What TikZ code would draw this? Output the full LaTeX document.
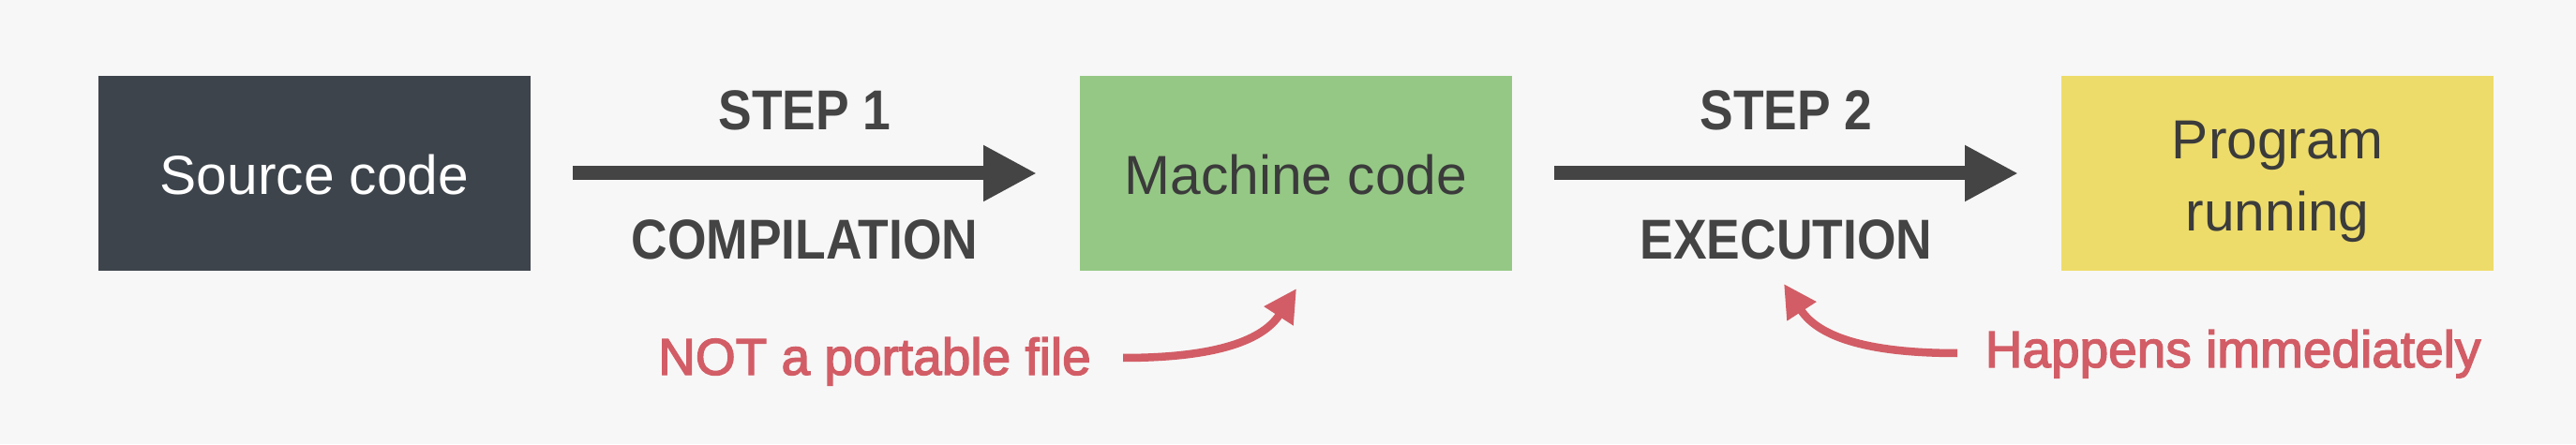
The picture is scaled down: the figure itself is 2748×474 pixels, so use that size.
\documentclass[tikz,border=0pt]{standalone}
\usepackage{fontspec}
\setmainfont{Liberation Sans}
\newfontfamily\stepfont{Liberation Sans}[FakeStretch=0.89]
\newfontfamily\notefont{Liberation Sans}[FakeBold=2.5]
\usetikzlibrary{arrows.meta}
\definecolor{bg}{HTML}{F7F7F7}
\definecolor{slate}{HTML}{3D444B}
\definecolor{leaf}{HTML}{95C885}
\definecolor{sun}{HTML}{EDDC6A}
\definecolor{ink}{HTML}{444444}
\definecolor{boxink}{HTML}{3B3B3B}
\definecolor{alert}{HTML}{D25D66}
\begin{document}
\begin{tikzpicture}[x=1pt,y=1pt,
  stagebox/.style={minimum width=461pt, minimum height=208pt, inner sep=0pt, outer sep=0pt,
    text=boxink, font=\fontsize{58.7}{77}\selectfont, align=center},
  steparrow/.style={draw=ink, line width=15pt, -{Triangle[length=57pt,width=56pt]},
    shorten <=45pt, shorten >=46pt},
  steplabel/.style={text=ink, font=\stepfont\bfseries\fontsize{60}{72}\selectfont,
    inner sep=0pt, anchor=base},
  notelabel/.style={text=alert, font=\notefont\fontsize{55}{66}\selectfont,
    inner sep=0pt, anchor=base west},
  notearrow/.style={draw=alert, line width=8.5pt, -{Triangle[length=35pt,width=35pt]}},
]
\fill[bg] (0,0) rectangle (2748,474);
\useasboundingbox (0,0) rectangle (2748,474);

\node[stagebox, fill=slate, text=white, text height=46pt, text depth=0pt] (src) at (335.5,289) {Source code};
\node[stagebox, fill=leaf, text height=46pt, text depth=0pt] (mach) at (1382.5,289) {Machine code};
\node[stagebox, fill=sun] (prog) at (2429.5,289) {\rule{0pt}{59pt}Program\\running};

\draw[steparrow] (src) -- (mach);
\draw[steparrow] (mach) -- (prog);

\node[steplabel] (s1) at (858.5,335) {STEP 1};
\node[steplabel] (c1) at (858.5,197) {COMPILATION};
\node[steplabel] (s2) at (1905.5,335) {STEP 2};
\node[steplabel] (e2) at (1905.5,197) {EXECUTION};

\node[notelabel] (n1) at (702,74) {NOT a portable file};
\node[notelabel] (n2) at (2117.5,82) {Happens immediately};

\coordinate (t1) at (1198,92);
\coordinate (h1) at (1383,166);
\draw[notearrow] (t1) to[out=0,in=237,out distance=90pt,in distance=70pt] (h1);
\coordinate (t2) at (2088,97);
\coordinate (h2) at (1903,171);
\draw[notearrow] (t2) to[out=180,in=-57,out distance=90pt,in distance=70pt] (h2);
\end{tikzpicture}
\end{document}
